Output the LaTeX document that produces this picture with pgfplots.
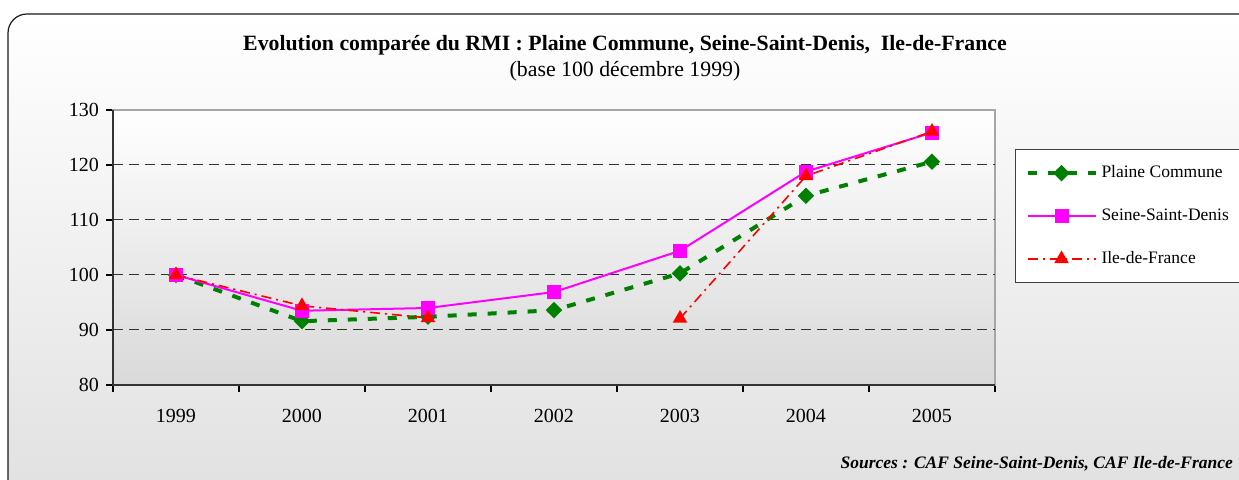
\documentclass[border=0pt]{standalone}
\usepackage{pgfplots}
\pgfplotsset{compat=1.18}
\usepackage{fontspec}
\setmainfont{Liberation Serif}
\definecolor{pcgreen}{RGB}{0,128,0}
\definecolor{ssdmag}{RGB}{255,0,255}
\definecolor{idfred}{RGB}{255,0,0}
\begin{document}
\begin{tikzpicture}
% picture frame: 1239x480 px at 0.5pt per px
\clip (0,0) rectangle (619.5pt,240pt);
\fill[white] (0,0) rectangle (619.5pt,240pt);
\draw[top color=white, bottom color=gray!24, draw=black!90, line width=0.6pt, rounded corners=9.5pt]
  (4pt,-12pt) rectangle (632pt,233pt);

%% titles
\node[anchor=base, font=\bfseries\fontsize{10.9}{12}\selectfont] at (312.5pt,214.5pt)
  {Evolution comparée du RMI : Plaine Commune, Seine-Saint-Denis,~ Ile-de-France};
\node[anchor=base, font=\fontsize{10.9}{12}\selectfont] at (312.5pt,201.5pt)
  {(base 100 décembre 1999)};

\begin{axis}[
  at={(56.5pt,47.5pt)}, anchor=south west,
  scale only axis,
  width=441pt, height=137.5pt,
  xmin=-0.5, xmax=6.5,
  ymin=80, ymax=130,
  xtick={0,...,6},
  xticklabels={1999,2000,2001,2002,2003,2004,2005},
  minor xtick={-0.5,0.5,...,6.5},
  xtick pos=bottom, ytick pos=left,
  major x tick style={draw=none},
  ytick={80,90,...,130},
  tick align=outside,
  major tick length=3.5pt,
  minor tick length=3.5pt,
  tick style={black, line width=0.6pt},
  ticklabel style={font=\fontsize{10}{12}\selectfont},
  xticklabel style={yshift=-5pt},
  /pgf/number format/assume math mode=true,
  axis line style={draw=gray!70, line width=0.6pt},
  axis background/.style={top color=white, bottom color=gray!30},
  unbounded coords=jump,
  clip=false,
  legend style={at={(1.0227,0.858)}, anchor=north west, draw=black!75, line width=0.5pt,
                fill=white, font=\fontsize{8.75}{10}\selectfont,
                row sep=10pt, inner ysep=6pt, inner xsep=5pt},
  legend cell align=left,
  legend image code/.code={
    \draw[mark repeat=2,mark phase=2,#1] plot coordinates {(0pt,0pt) (17pt,0pt) (34pt,0pt)};
  },
]

%% dashed gridlines
\foreach \g in {90,100,110,120}{
  \edef\temp{\noexpand\draw[black!80, line width=0.5pt, dash pattern=on 5pt off 3pt]
    (axis cs:-0.5,\g) -- (axis cs:6.5,\g);}
  \temp
}

%% Plaine Commune
\addplot[pcgreen, line width=2pt, dash pattern=on 4.5pt off 5.5pt,
  mark=square*, mark size=1.9pt, mark options={solid, rotate=45, fill=pcgreen}]
  coordinates {(0,100.0) (1,91.6) (2,92.4) (3,93.6) (4,100.3) (5,114.4) (6,120.6)};
\addlegendentry{Plaine Commune}

%% Seine-Saint-Denis
\addplot[ssdmag, line width=1pt,
  mark=square*, mark size=3pt, mark options={solid, fill=ssdmag}]
  coordinates {(0,100.0) (1,93.5) (2,94.0) (3,96.9) (4,104.4) (5,118.8) (6,125.9)};
\addlegendentry{Seine-Saint-Denis}

%% Ile-de-France (2002 missing)
\addplot[idfred, line width=0.8pt, dash pattern=on 5pt off 2.5pt on 1pt off 2.5pt,
  mark=triangle*, mark size=3.4pt, mark options={solid, fill=idfred}]
  coordinates {(0,100.0) (1,94.4) (2,92.2) (3,nan) (4,92.1) (5,118.0) (6,126.1)};
\addlegendentry{Ile-de-France}

%% darker left and bottom axis lines
\draw[black!80, line width=0.9pt] (rel axis cs:0,1) -- (rel axis cs:0,0) -- (rel axis cs:1,0);

\end{axis}

%% source
\node[anchor=base east, font=\bfseries\itshape\fontsize{8.75}{10}\selectfont] at (620pt,5.5pt)
  {Sources : CAF Seine-Saint-Denis, CAF Ile-de-France};
\end{tikzpicture}
\end{document}
